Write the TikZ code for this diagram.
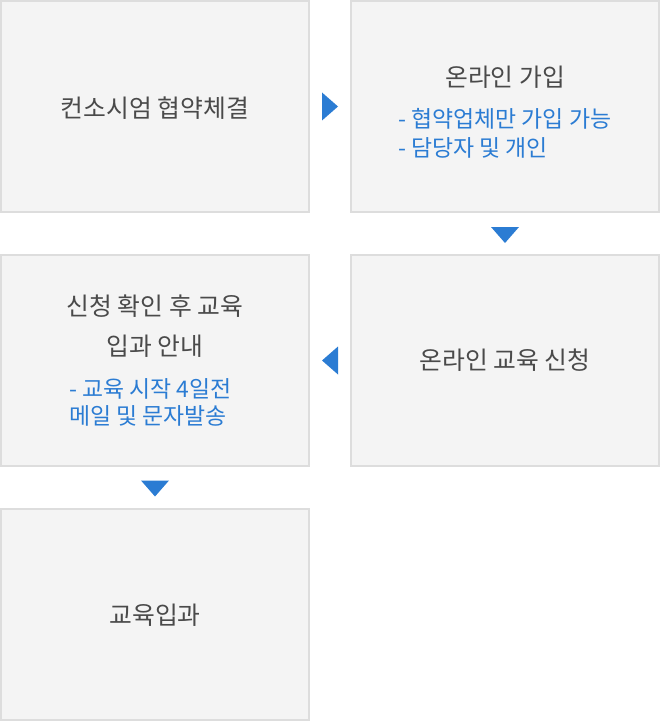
\documentclass[tikz,border=0pt]{standalone}
\usepackage{fontspec}
\setmainfont{Noto Sans CJK KR}
\usetikzlibrary{calc}
\definecolor{boxfill}{HTML}{F4F4F4}
\definecolor{boxline}{HTML}{DDDDDD}
\definecolor{txtgray}{HTML}{4A4A4A}
\definecolor{txtblue}{HTML}{2B7CD3}
\tikzset{
  stepbox/.style={draw=boxline, fill=boxfill, line width=2pt, minimum width=308pt, minimum height=211pt, inner sep=0pt},
  maintxt/.style={text=txtgray, inner sep=0pt, font=\fontsize{24.8}{29}\selectfont},
  subtxt/.style={text=txtblue, inner sep=0pt, anchor=west, font=\fontsize{22.9}{27}\selectfont},
  tri/.style={fill=txtblue}
}
\begin{document}
\begin{tikzpicture}[x=1pt,y=-1pt]
\useasboundingbox (0,0) rectangle (660,722);
\node[stepbox] (b1) at (155,106.5) {};
\node[stepbox] (b2) at (505,106.5) {};
\node[stepbox] (b3) at (155,360.5) {};
\node[stepbox] (b4) at (505,360.5) {};
\node[stepbox] (b5) at (155,614.5) {};

\node[maintxt] (t1) at (155,108) {컨소시엄 협약체결};
\node[maintxt] (t2) at (505,77) {온라인 가입};
\node[subtxt] (s2a) at (398,118.5) {- 협약업체만 가입 가능};
\node[subtxt] (s2b) at (398,148) {- 담당자 및 개인};
\node[maintxt] (t3a) at (155,306) {신청 확인 후 교육};
\node[maintxt] (t3b) at (155,346) {입과 안내};
\node[subtxt] (s3a) at (69,389) {- 교육 시작 4일전};
\node[subtxt] (s3b) at (69,416) {메일 및 문자발송};
\node[maintxt] (t4) at (505,360) {온라인 교육 신청};
\node[maintxt] (t5) at (155,615) {교육입과};

% flow arrows between boxes
\coordinate (m12) at ($(b1.east)!0.5!(b2.west)$);
\fill[tri] ($(m12)+(-8,-14)$) -- ($(m12)+(8,0)$) -- ($(m12)+(-8,14)$) -- cycle;
\coordinate (m24) at ($(b2.south)!0.5!(b4.north)$);
\fill[tri] ($(m24)+(-14,-6.5)$) -- ($(m24)+(14,-6.5)$) -- ($(m24)+(0,9.5)$) -- cycle;
\coordinate (m43) at ($(b4.west)!0.5!(b3.east)$);
\fill[tri] ($(m43)+(8,-14)$) -- ($(m43)+(-8,0)$) -- ($(m43)+(8,14)$) -- cycle;
\coordinate (m35) at ($(b3.south)!0.5!(b5.north)$);
\fill[tri] ($(m35)+(-14,-7)$) -- ($(m35)+(14,-7)$) -- ($(m35)+(0,9)$) -- cycle;
\end{tikzpicture}
\end{document}
